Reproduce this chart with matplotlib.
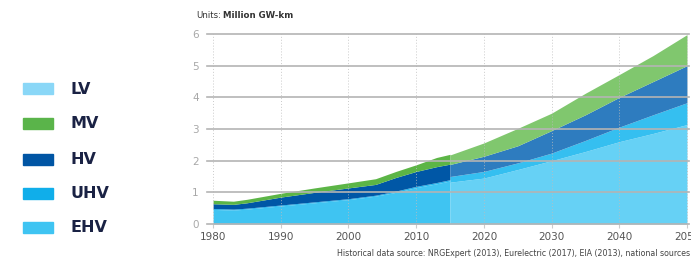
import matplotlib.pyplot as plt
from matplotlib.patches import Rectangle

# historical part (cumulative tops of each band, Million GW-km)
hist_years = [1980, 1983, 1985, 1990, 1995, 2000, 2004, 2007, 2010, 2013, 2015]
hist_bottom = [0.46, 0.44, 0.47, 0.57, 0.67, 0.77, 0.88, 1.00, 1.15, 1.27, 1.36]
hist_uhv = [0.49, 0.47, 0.50, 0.60, 0.70, 0.80, 0.91, 1.04, 1.19, 1.31, 1.40]
hist_hv = [0.64, 0.62, 0.67, 0.85, 1.00, 1.14, 1.25, 1.47, 1.66, 1.81, 1.89]
hist_mv = [0.75, 0.72, 0.78, 0.97, 1.14, 1.30, 1.43, 1.66, 1.87, 2.10, 2.20]

# projection part
proj_years = [2015, 2020, 2025, 2030, 2035, 2040, 2045, 2050]
proj_bottom = [1.32, 1.45, 1.72, 2.00, 2.29, 2.60, 2.86, 3.14]
proj_uhv = [1.50, 1.66, 1.93, 2.24, 2.64, 3.06, 3.45, 3.83]
proj_hv = [1.88, 2.14, 2.47, 2.95, 3.45, 4.00, 4.50, 5.00]
proj_mv = [2.18, 2.56, 3.02, 3.50, 4.13, 4.72, 5.32, 5.98]

legend_labels = ["LV", "MV", "HV", "UHV", "EHV"]
legend_colors = ["#8ad7f7", "#5ab44a", "#0055a4", "#10aeea", "#3fc4f2"]

hist_colors = ["#3fc4f2", "#22b6ee", "#0057a6", "#5cb546"]
proj_colors = ["#66d1f5", "#35bff0", "#2e7cbf", "#80c76e"]

fig = plt.figure(figsize=(6.91, 2.58), dpi=100)
ax = fig.add_axes([207 / 691, 34 / 258, 482 / 691, 190 / 258])

for x, layers, cols in ((hist_years, [hist_bottom, hist_uhv, hist_hv, hist_mv], hist_colors),
                        (proj_years, [proj_bottom, proj_uhv, proj_hv, proj_mv], proj_colors)):
    lower = [0] * len(x)
    for upper, c in zip(layers, cols):
        ax.fill_between(x, lower, upper, color=c, linewidth=0, zorder=1)
        lower = upper

ax.set_xlim(1979.1, 2050.3)
ax.set_ylim(0, 6)
ax.set_xticks(range(1980, 2051, 10))
ax.set_yticks(range(0, 7))
for v in range(0, 7):
    ax.axhline(v, color="#b4b4b4", lw=1.2, zorder=3, clip_on=False)
for yr in range(1980, 2051, 10):
    ax.axvline(yr, color="#bdbdbd", lw=0.7, ls=(0, (1, 2)), zorder=2, alpha=0.8)
for s in ax.spines.values():
    s.set_visible(False)
ax.tick_params(axis="y", length=0, labelsize=7.5, labelcolor="#a8a8a8", pad=6)
ax.tick_params(axis="x", length=3, color="#cccccc", labelsize=7.5, labelcolor="#555555", pad=3)

fig.text(196 / 691, 1 - 15 / 258, "Units:", fontsize=6.2,
         color="#333333", va="center")
fig.text(223 / 691, 1 - 15 / 258, "Million GW-km", fontsize=6.2, fontweight="bold",
         color="#333333", va="center")
fig.text(690 / 691, 1 - 253 / 258,
         "Historical data source: NRGExpert (2013), Eurelectric (2017), EIA (2013), national sources",
         fontsize=5.7, color="#444444", ha="right", va="center")

legend_y = [89, 124, 160, 194, 228]
for lab, c, yy in zip(legend_labels, legend_colors, legend_y):
    fig.patches.append(Rectangle((23 / 691, 1 - (yy + 5) / 258), 30 / 691, 11 / 258,
                                 transform=fig.transFigure, color=c))
    fig.text(70 / 691, 1 - yy / 258, lab, fontsize=11.5, fontweight="bold",
             color="#1a2244", va="center")

fig.savefig("out.png", dpi=100)
